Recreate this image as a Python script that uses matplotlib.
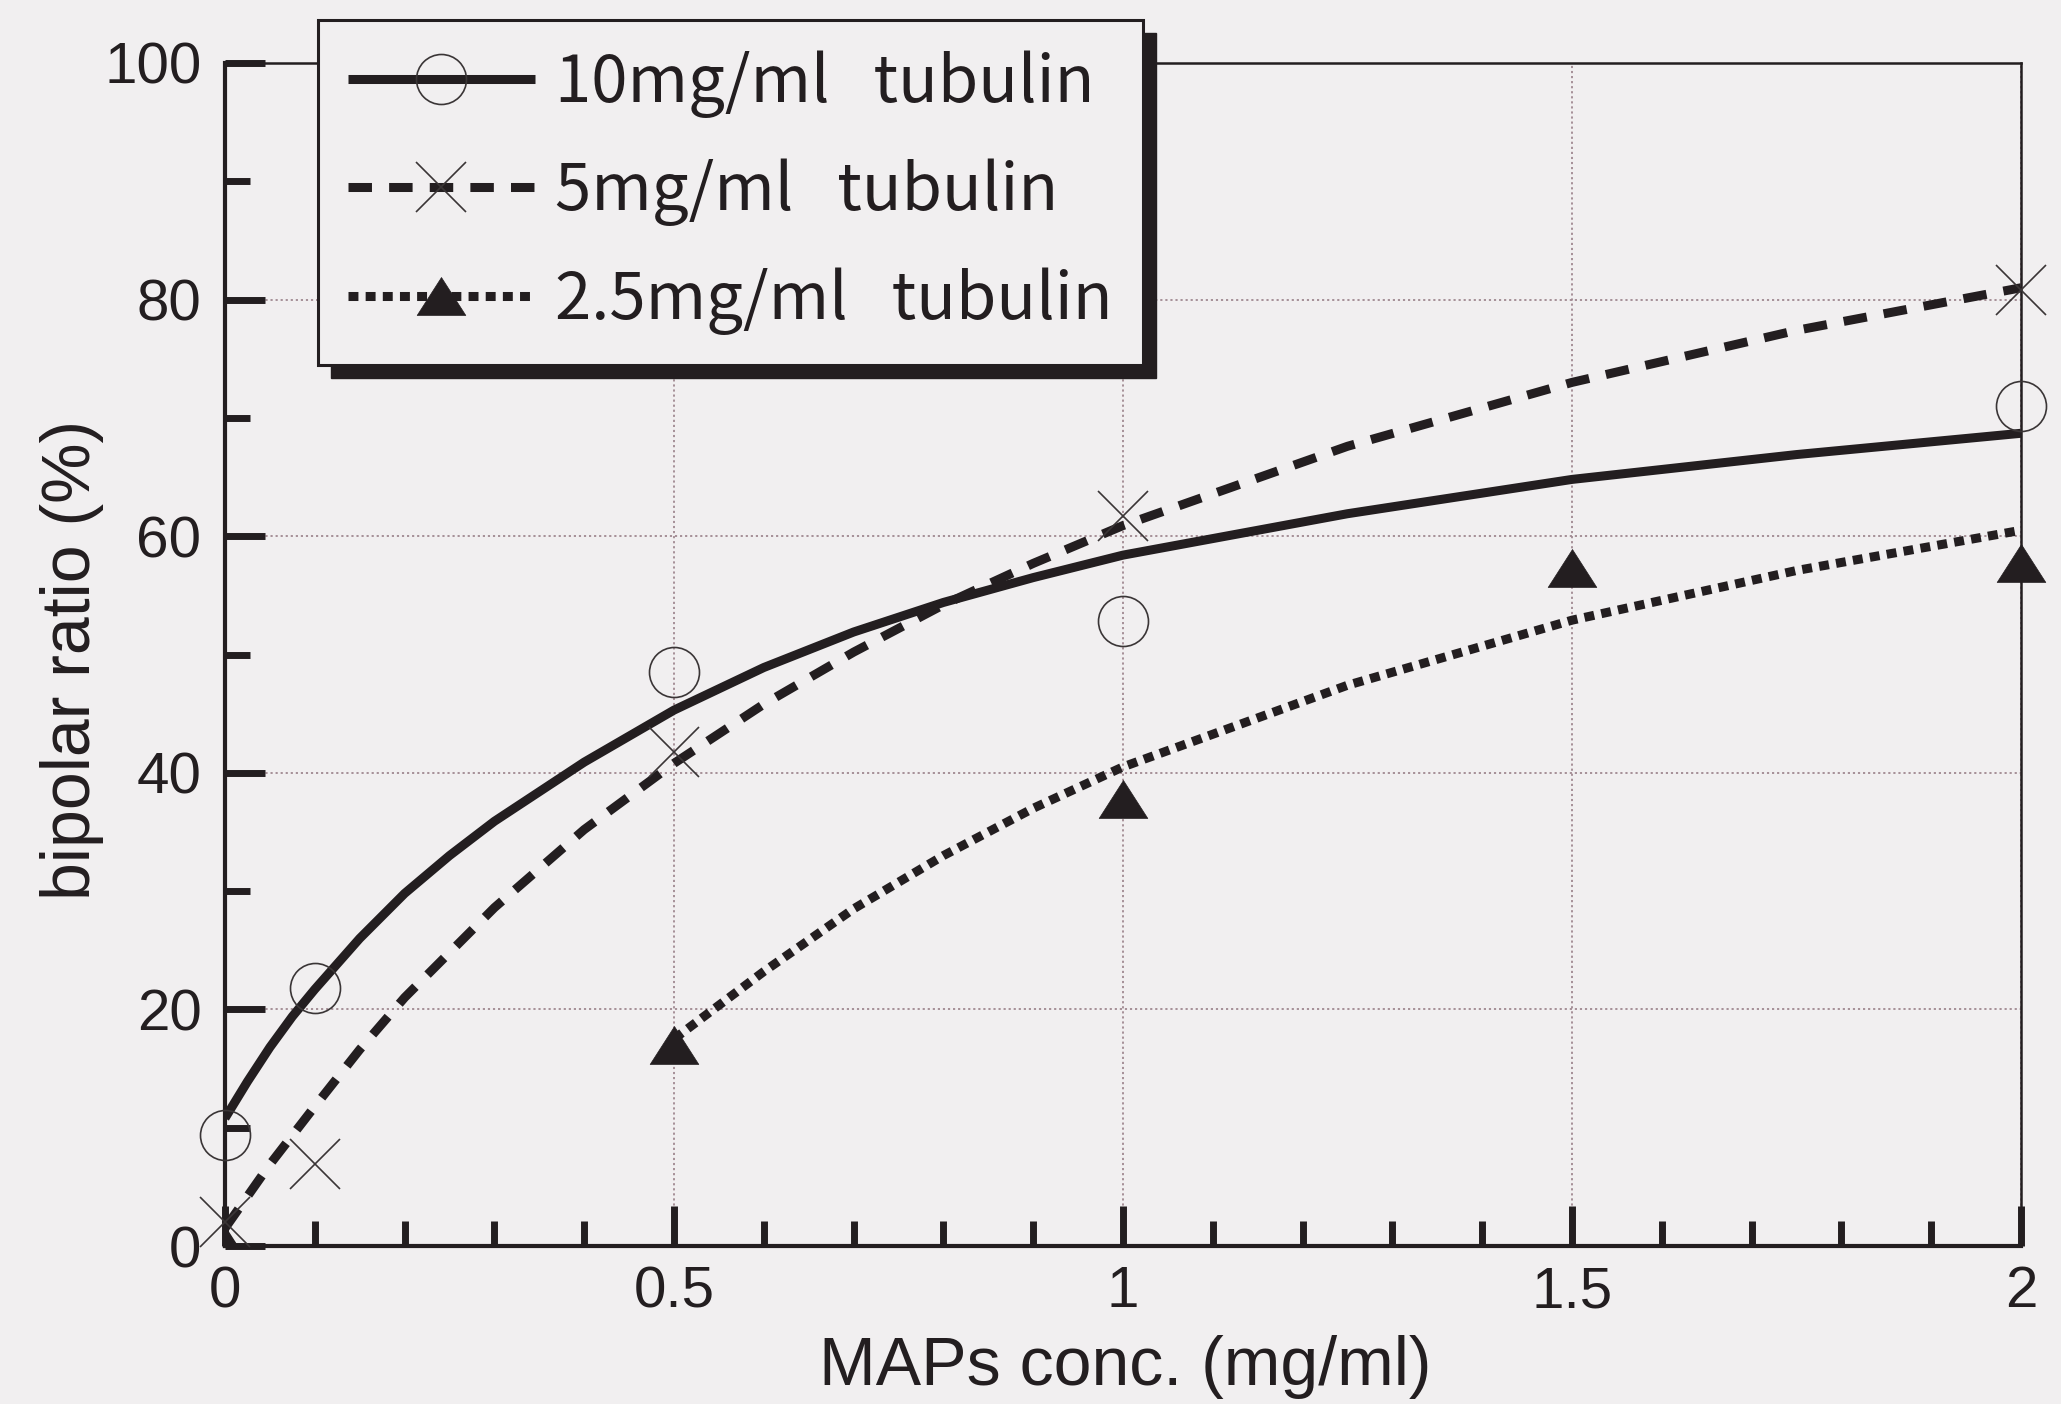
import matplotlib
matplotlib.use("Agg")
import matplotlib.pyplot as plt
from matplotlib.patches import Rectangle
from matplotlib.path import Path
from matplotlib.ticker import MultipleLocator, FixedLocator
from matplotlib.legend_handler import HandlerTuple

# ---------------- data ----------------
x_10 = [0, 0.1, 0.5, 1.0, 2.0]
y_10 = [9.4, 21.8, 48.5, 52.8, 71.0]

x_5 = [0, 0.1, 0.5, 1.0, 2.0]
y_5 = [2.0, 6.9, 41.8, 61.7, 80.8]

x_25 = [0, 0.5, 1.0, 1.5, 2.0]
y_25 = [0.0, 17.0, 37.8, 57.3, 57.7]

# fitted curves
fit_x_10 = [0, 0.025, 0.05, 0.075, 0.1, 0.15, 0.2, 0.25, 0.3, 0.4, 0.5, 0.6,
            0.7, 0.8, 0.9, 1.0, 1.25, 1.5, 1.75, 2.0]
fit_y_10 = [10.8, 13.9, 16.8, 19.4, 21.7, 26.0, 29.8, 33.0, 35.9, 40.9, 45.3,
            48.9, 51.9, 54.4, 56.5, 58.4, 61.9, 64.8, 66.9, 68.7]

fit_x_5 = [0, 0.05, 0.1, 0.15, 0.2, 0.3, 0.4, 0.5, 0.6, 0.7, 0.8, 0.9, 1.0,
           1.25, 1.5, 1.75, 2.0]
fit_y_5 = [1.5, 6.9, 11.8, 16.6, 21.0, 28.6, 35.2, 40.8, 45.8, 50.2, 54.2,
           57.7, 60.9, 67.6, 73.0, 77.4, 81.0]

fit_x_25 = [0.5, 0.6, 0.7, 0.8, 0.9, 1.0, 1.25, 1.5, 1.75, 2.0]
fit_y_25 = [17.5, 23.2, 28.5, 33.0, 37.0, 40.5, 47.4, 52.9, 57.1, 60.5]

labels = ["10mg/ml   tubulin", "5mg/ml   tubulin", "2.5mg/ml   tubulin"]
x_major = [0, 0.5, 1, 1.5, 2]
x_major_labels = ["0", "0.5", "1", "1.5", "2"]
y_major = [0, 20, 40, 60, 80, 100]
y_major_labels = ["0", "20", "40", "60", "80", "100"]
x_label = "MAPs conc. (mg/ml)"
y_label = "bipolar ratio (%)"

# ---------------- style ----------------
BG = "#f1eff0"
INK = "#231e20"
GRID = "#a08890"
W, H = 2061, 1404
DPI = 100

plt.rcParams["font.family"] = ["Liberation Sans", "DejaVu Sans"]

fig = plt.figure(figsize=(W / DPI, H / DPI), dpi=DPI)
fig.patch.set_facecolor(BG)

left_px, right_px, bottom_px, top_px = 225, 2021, 1246, 63
ax = fig.add_axes([left_px / W, 1 - bottom_px / H,
                   (right_px - left_px) / W, (bottom_px - top_px) / H])
ax.set_facecolor(BG)
ax.set_xlim(0, 2)
ax.set_ylim(0, 100)

for side in ["left", "bottom"]:
    ax.spines[side].set_linewidth(3.0)
    ax.spines[side].set_color(INK)
for side in ["top", "right"]:
    ax.spines[side].set_linewidth(1.8)
    ax.spines[side].set_color(INK)

ax.xaxis.set_major_locator(FixedLocator(x_major))
ax.set_xticklabels(x_major_labels)
ax.yaxis.set_major_locator(FixedLocator(y_major))
ax.set_yticklabels(y_major_labels)
ax.xaxis.set_minor_locator(MultipleLocator(0.1))
ax.yaxis.set_minor_locator(MultipleLocator(10))
ax.tick_params(which="major", direction="in", length=29, width=5,
               color=INK, labelsize=42, labelcolor=INK)
ax.tick_params(axis="y", which="major", pad=17)
ax.tick_params(axis="x", which="major", pad=14)
ax.tick_params(which="minor", direction="in", length=18, width=5, color=INK)

ax.set_axisbelow(True)
ax.grid(True, which="major", linestyle=(0, (1.2, 1.6)), linewidth=1.3,
        color=GRID)

LW = 6.5
line_10, = ax.plot(fit_x_10, fit_y_10, color=INK, lw=LW, solid_capstyle="butt",
                   zorder=3)
line_5, = ax.plot(fit_x_5, fit_y_5, color=INK, lw=LW, linestyle=(0, (2.6, 1.9)),
                  dash_capstyle="butt", zorder=3)
line_25, = ax.plot(fit_x_25, fit_y_25, color=INK, lw=LW,
                   linestyle=(0, (1.1, 0.8)), dash_capstyle="butt", zorder=3)

tri = Path([(-1, -0.78), (1, -0.78), (0, 0.78), (-1, -0.78)],
           [Path.MOVETO, Path.LINETO, Path.LINETO, Path.CLOSEPOLY])

m_10, = ax.plot(x_10, y_10, linestyle="none", marker="o", markersize=36,
                markerfacecolor="none", markeredgecolor="#3a3536",
                markeredgewidth=1.2, clip_on=False, zorder=4)
m_5, = ax.plot(x_5, y_5, linestyle="none", marker="x", markersize=36,
               markeredgecolor="#3a3536", markeredgewidth=1.2, clip_on=False,
               zorder=4)
# triangle points: the one at the origin is cut by the axes box
x_25_in = [x for x in x_25 if x > 0]
y_25_in = [y for x, y in zip(x_25, y_25) if x > 0]
x_25_0 = [x for x in x_25 if x == 0]
y_25_0 = [y for x, y in zip(x_25, y_25) if x == 0]
m_25, = ax.plot(x_25_in, y_25_in, linestyle="none", marker=tri, markersize=35,
                markerfacecolor=INK, markeredgecolor=INK, markeredgewidth=0.5,
                clip_on=False, zorder=4)
ax.plot(x_25_0, y_25_0, linestyle="none", marker=tri, markersize=35,
        markerfacecolor=INK, markeredgecolor=INK, clip_on=True, zorder=4)

leg = ax.legend([(line_10, m_10), (line_5, m_5), (line_25, m_25)], labels,
                handler_map={tuple: HandlerTuple(ndivide=1)},
                loc="upper left", bbox_to_anchor=(318 / W, 1 - 20 / H),
                bbox_transform=fig.transFigure, borderaxespad=0,
                prop={"family": ["Noto Sans CJK JP", "DejaVu Sans"], "size": 47},
                handlelength=2.86, handletextpad=0.31, labelspacing=0.63,
                borderpad=0.46, numpoints=1, fancybox=False, framealpha=1,
                facecolor=BG, edgecolor=INK)
leg.get_frame().set_linewidth(2.2)
for t in leg.get_texts():
    t.set_color(INK)
leg.set_zorder(10)

fig.text(72 / W, 1 - 660 / H, y_label, rotation=90, ha="center", va="center",
         fontsize=49, color=INK)
fig.text(1125 / W, 1 - 1367 / H, x_label, ha="center", va="center",
         fontsize=49, color=INK)

# drop shadow of the legend box
fig.canvas.draw()
bb = leg.get_frame().get_window_extent().transformed(fig.transFigure.inverted())
off_x, off_y = 13 / W, 13 / H
shadow = Rectangle((bb.x0 + off_x, bb.y0 - off_y), bb.width, bb.height,
                   transform=fig.transFigure, facecolor=INK, edgecolor=INK,
                   clip_on=False, zorder=9.5)
ax.add_patch(shadow)

fig.savefig("out.png", dpi=DPI, facecolor=BG)
